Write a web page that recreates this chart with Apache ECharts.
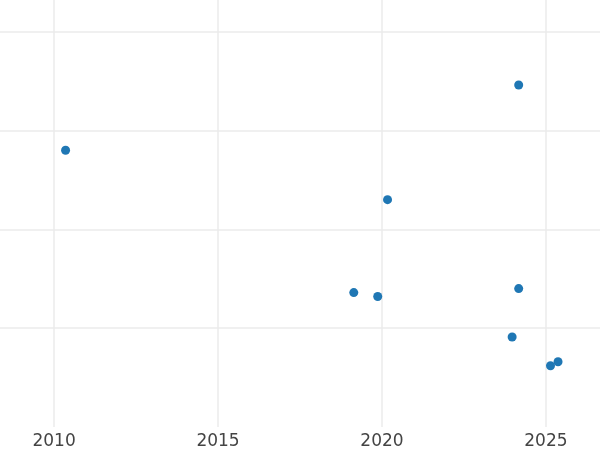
<!DOCTYPE html>
<html>

<head>
    <meta charset="utf-8">
    <title>scatter</title>
    <style>
        html, body { margin: 0; padding: 0; background: #fff; }
        #chart-container { width: 600px; height: 450px; }
    </style>
    <script src="https://cdn.jsdelivr.net/npm/echarts@6/dist/echarts.min.js"></script>
</head>

<body>
    <div id="chart-container"></div>
    <script>
        // data
        const years = [2010.35, 2024.17, 2020.17, 2019.14, 2019.87, 2024.17, 2023.97, 2025.14, 2025.37];
        const values = [2.80, 3.46, 2.30, 1.36, 1.32, 1.40, 0.91, 0.62, 0.66];
        const xRange = [2008.35, 2026.65];
        const yRange = [0, 4.32];

        const points = years.map((x, i) => [x, values[i]]);

        var dom = document.getElementById('chart-container');
        var myChart = echarts.init(dom, null, { renderer: 'canvas' });

        var option = {
            animation: false,
            backgroundColor: '#ffffff',
            grid: { left: 0, right: 0, top: 0, bottom: 23, containLabel: false },
            xAxis: {
                type: 'value',
                min: xRange[0],
                max: xRange[1],
                splitNumber: 4,
                axisLine: { show: false },
                axisTick: { show: false },
                axisLabel: {
                    color: '#444444',
                    fontSize: 17,
                    fontFamily: 'DejaVu Sans',
                    margin: 6,
                    showMinLabel: false,
                    showMaxLabel: false,
                    formatter: function (v) {
                        // only whole five-year ticks get a label
                        return (Math.abs(v % 5) < 1e-6) ? String(Math.round(v)) : '';
                    }
                },
                splitLine: {
                    show: true,
                    showMinLine: false,
                    showMaxLine: false,
                    lineStyle: { color: '#ebebeb', width: 1.5 }
                }
            },
            yAxis: {
                type: 'value',
                min: yRange[0],
                max: yRange[1],
                interval: 1,
                axisLine: { show: false },
                axisTick: { show: false },
                axisLabel: { show: false },
                splitLine: {
                    show: true,
                    showMinLine: false,
                    showMaxLine: false,
                    lineStyle: { color: '#ebebeb', width: 1.5 }
                }
            },
            series: [
                {
                    type: 'scatter',
                    data: points,
                    symbolSize: 9,
                    itemStyle: { color: '#1f77b4', opacity: 1 }
                }
            ]
        };

        myChart.setOption(option);
        window.addEventListener('resize', myChart.resize);
    </script>
</body>

</html>
